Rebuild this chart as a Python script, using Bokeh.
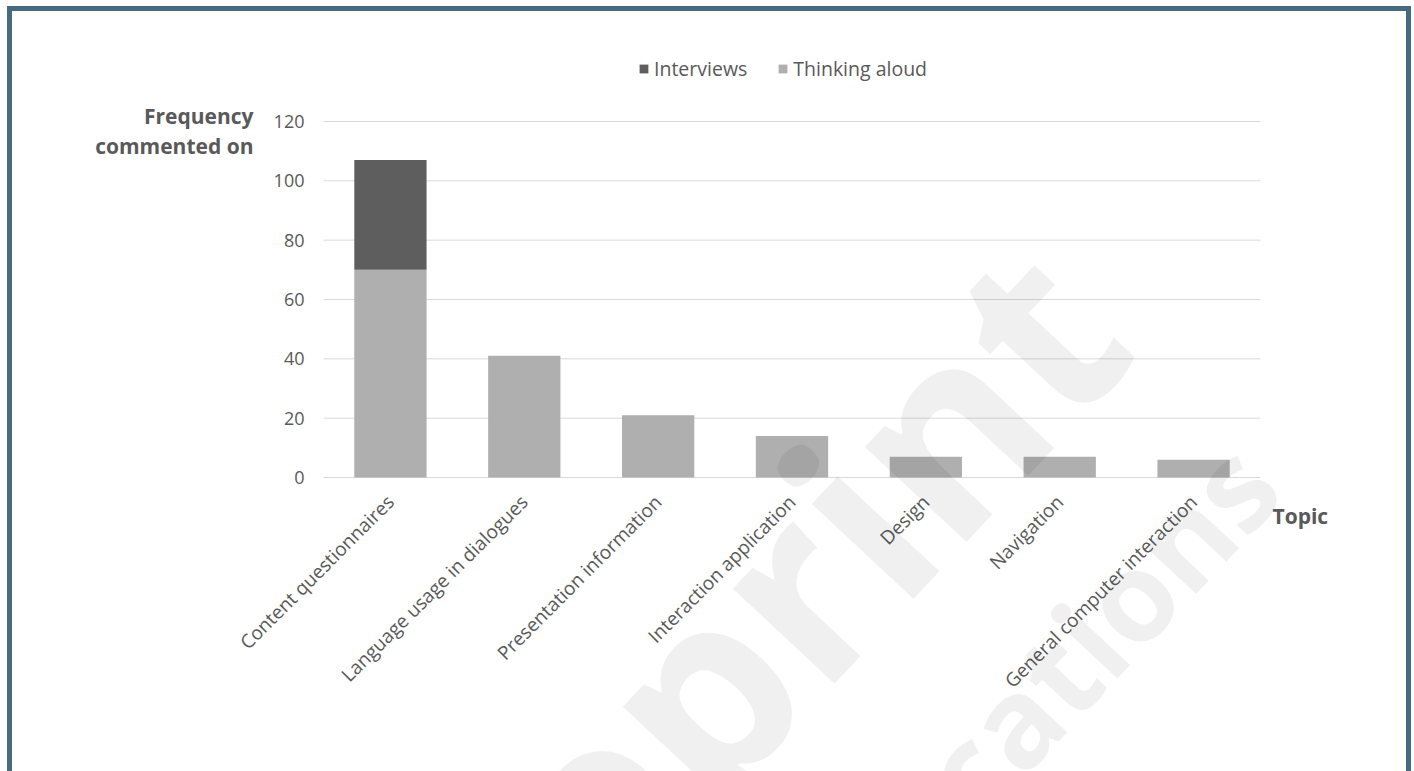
import numpy as np
from bokeh.plotting import figure
from bokeh.models import (Label, Legend, LegendItem, FixedTicker,
                          Range1d, ColumnDataSource, LinearAxis)
from bokeh.embed import file_html
from bokeh.resources import INLINE

# ---------------- data ----------------
categories = ["Content questionnaires", "Language usage in dialogues",
              "Presentation information", "Interaction application",
              "Design", "Navigation", "General computer interaction"]
thinking_aloud = [70, 41, 21, 14, 7, 7, 6]
interviews = [37, 0, 0, 0, 0, 0, 0]
y_ticks = [0, 20, 40, 60, 80, 100, 120]
y_title = ["Frequency", "commented on"]
x_title = "Topic"
watermark = ["Preprint", "JMIR Publications"]

# ---------------- styles / layout ----------------
FONT = "Open Sans"
TXT = "#595959"
C_THINK = "#afafaf"
C_INTER = "#5e5e5e"
GRID = "#d9d9d9"
FRAME_COLOR = "#466a7f"

CAN_X, CAN_Y = 12, 11          # page offset of the canvas (margin + css border)
CAN_W, CAN_H = 1404, 765       # canvas size (visible part is clipped by the border box)
PLOT_L, PLOT_R = 323, 1260     # page x of the category band
ZERO_Y = 477                   # page y of value 0
PPU = 356 / 120                # px per value unit
n = len(categories)
PPX = (PLOT_R - PLOT_L) / n

x_start = -(PLOT_L - CAN_X) / PPX
x_end = n + (CAN_X + CAN_W - PLOT_R) / PPX
y_end = (ZERO_Y - CAN_Y) / PPU
y_start = -(CAN_Y + CAN_H - ZERO_Y) / PPU

p = figure(x_range=Range1d(x_start, x_end), y_range=Range1d(y_start, y_end),
           width=CAN_W, height=CAN_H,
           min_border_left=0, min_border_right=0,
           min_border_top=0, min_border_bottom=0,
           output_backend="svg", toolbar_location=None)
p.title.visible = False
p.styles = {"margin-left": "7px", "margin-top": "6px",
            "border-left": f"5px solid {FRAME_COLOR}",
            "border-right": f"5px solid {FRAME_COLOR}",
            "border-top": f"5px solid {FRAME_COLOR}"}
p.outline_line_color = None
p.background_fill_color = "white"
p.border_fill_color = "white"
p.xgrid.visible = False
p.ygrid.visible = False

x_pos = [i + 0.5 for i in range(n)]

# horizontal gridlines across the category band
p.segment(x0=[0] * len(y_ticks), x1=[n] * len(y_ticks), y0=y_ticks, y1=y_ticks,
          line_color=GRID, line_width=1)

src = ColumnDataSource(dict(x=x_pos, think=thinking_aloud, inter=interviews))
rs = p.vbar_stack(["think", "inter"], x="x", width=0.54, source=src,
                  color=[C_THINK, C_INTER], line_color=None)

def label_axis(ax, size, bold=False):
    ax.axis_line_color = None
    ax.major_tick_line_color = None
    ax.minor_tick_line_color = None
    ax.major_label_text_font = FONT
    ax.major_label_text_color = TXT
    ax.major_label_text_font_size = size
    if bold:
        ax.major_label_text_font_style = "bold"

# category axis
xa = p.xaxis[0]
xa.ticker = FixedTicker(ticks=x_pos)
xa.major_label_overrides = {v: c for v, c in zip(x_pos, categories)}
xa.fixed_location = 0
xa.major_label_orientation = np.pi / 4
xa.major_label_standoff = 15
label_axis(xa, "19px")

# value axis
ya = p.yaxis[0]
ya.ticker = FixedTicker(ticks=y_ticks)
ya.fixed_location = 0
ya.major_label_standoff = 13
label_axis(ya, "18px")

# y title (label-only axis)
yt_pos = [121.8, 111.9]
ax_t = LinearAxis(ticker=FixedTicker(ticks=yt_pos),
                  major_label_overrides={v: t for v, t in zip(yt_pos, y_title)},
                  fixed_location=0, major_label_standoff=64)
label_axis(ax_t, "21px", bold=True)
p.add_layout(ax_t, "left")

# x title (label-only axis on the right of the band)
xt_pos = [-13]
ax_x = LinearAxis(ticker=FixedTicker(ticks=xt_pos),
                  major_label_overrides={xt_pos[0]: x_title},
                  fixed_location=n, major_label_standoff=6)
label_axis(ax_x, "21px", bold=True)
p.add_layout(ax_x, "right")

# legend
legend = Legend(items=[LegendItem(label="Interviews", renderers=[rs[1]]),
                       LegendItem(label="Thinking aloud", renderers=[rs[0]])],
                orientation="horizontal",
                location=(638 - CAN_X, CAN_Y + CAN_H - 82),
                glyph_width=11, glyph_height=11, label_standoff=5, spacing=30,
                padding=0, margin=0, border_line_color=None,
                background_fill_alpha=0,
                label_text_font=FONT, label_text_font_size="19.5px",
                label_text_color=TXT, label_height=20)
p.add_layout(legend, "center")

# watermark (page px -> data coords)
def dx(page_x):
    return (page_x - PLOT_L) / PPX

def dy(page_y):
    return (ZERO_Y - page_y) / PPU

ang = np.deg2rad(47)
p.add_layout(Label(x=dx(1070), y=dy(285), text=watermark[0], angle=ang,
                   text_align="right", text_baseline="alphabetic",
                   text_font=FONT, text_font_style="bold",
                   text_font_size="255px", text_color="black", text_alpha=0.06))
p.add_layout(Label(x=dx(1252), y=dy(462), text=watermark[1], angle=ang,
                   text_align="right", text_baseline="alphabetic",
                   text_font=FONT, text_font_style="bold",
                   text_font_size="125px", text_color="black", text_alpha=0.06))

open("out.html", "w").write(file_html(p, INLINE))
